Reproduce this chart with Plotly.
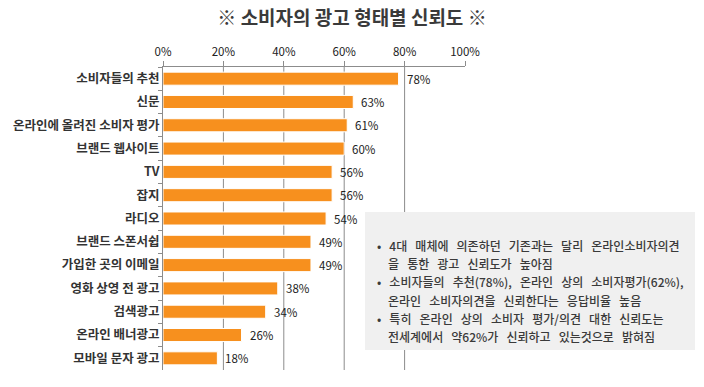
import plotly.graph_objects as go

categories = ["소비자들의 추천", "신문", "온라인에 올려진 소비자 평가", "브랜드 웹사이트", "TV", "잡지",
              "라디오", "브랜드 스폰서쉽", "가입한 곳의 이메일", "영화 상영 전 광고", "검색광고",
              "온라인 배너광고", "모바일 문자 광고"]
values = [78, 63, 61, 60, 56, 56, 54, 49, 49, 38, 34, 26, 18]
tick_values = [0, 20, 40, 60, 80, 100]
tick_labels = ["0%", "20%", "40%", "60%", "80%", "100%"]
grid_values = [20, 40, 60, 80]
title_text = "※ 소비자의 광고 형태별 신뢰도 ※"
note_lines = [
    "• 4대 매체에 의존하던 기존과는 달리 온라인소비자의견",
    "을 통한 광고 신뢰도가 높아짐",
    "• 소비자들의 추천(78%), 온라인 상의 소비자평가(62%),",
    "온라인 소비자의견을 신뢰한다는 응답비율 높음",
    "• 특히 온라인 상의 소비자 평가/의견 대한 신뢰도는",
    "전세계에서 약62%가 신뢰하고 있는것으로 밝혀짐",
]

FONT = "Noto Sans CJK KR"
W, H = 704, 387
L, R, T, B = 163, 239, 67, 17
PW, PH = W - L - R, H - T - B


def px_x(p):
    return (p - L) / PW


def px_y(p):
    return (H - B - p) / PH


fig = go.Figure()
fig.add_trace(go.Bar(
    x=values, y=categories, orientation="h",
    marker=dict(color="#F7901E", line=dict(color="#FFFFFF", width=1)),
    width=0.56, hoverinfo="skip",
))

for v, c in zip(values, categories):
    fig.add_annotation(x=v, y=c, text=f"{v}%", showarrow=False, xanchor="left",
                       xshift=6, font=dict(family=FONT, size=11.5, color="#222"))

shapes = []
for g in grid_values:
    shapes.append(dict(type="line", xref="x", yref="paper", x0=g, x1=g, y0=0, y1=1,
                       line=dict(color="#8C8C8C", width=1), layer="below"))
shapes.append(dict(type="rect", xref="paper", yref="paper",
                   x0=px_x(365), x1=px_x(695), y0=px_y(350), y1=px_y(212),
                   fillcolor="#F0F0F0", line=dict(width=0), layer="above"))

line_y = [245, 263, 281.5, 300, 318, 336.5]
for i, (txt, yy) in enumerate(zip(note_lines, line_y)):
    xx = 375 if txt.startswith("•") else 386
    fig.add_annotation(xref="paper", yref="paper", x=px_x(xx), y=px_y(yy),
                       xanchor="left", yanchor="middle",
                       text=txt.replace(" ", "&nbsp;&nbsp;&nbsp;"),
                       align="left", showarrow=False,
                       font=dict(family=FONT, size=12, color="#3A3A3A", weight=500))

fig.update_layout(
    width=W, height=H,
    margin=dict(l=L, r=R, t=T, b=B, autoexpand=False),
    paper_bgcolor="white", plot_bgcolor="white",
    showlegend=False,
    shapes=shapes,
    font=dict(family=FONT, color="#333"),
    title=dict(text=f"<b>{title_text}</b>", x=0.5, xanchor="center", y=1 - 18 / H, yanchor="middle",
               font=dict(family=FONT, size=19, color="#3A3A3A")),
    xaxis=dict(side="top", range=[0, 100], tickvals=tick_values, ticktext=tick_labels,
               showgrid=False, zeroline=False, showline=True, linecolor="#8C8C8C", linewidth=1,
               ticks="outside", ticklen=5, tickcolor="#8C8C8C", automargin=False,
               tickfont=dict(family=FONT, size=11.5, color="#222")),
    yaxis=dict(autorange="reversed", showline=True, linecolor="#8C8C8C", linewidth=1,
               ticks="outside", ticklen=4, tickcolor="#8C8C8C", tickson="boundaries",
               showgrid=False, automargin=False,
               tickfont=dict(family=FONT, size=12.5, color="#333", weight=600)),
)

fig.write_html("out.html", config={"displayModeBar": False},
               post_script="document.body.style.margin='0';")
